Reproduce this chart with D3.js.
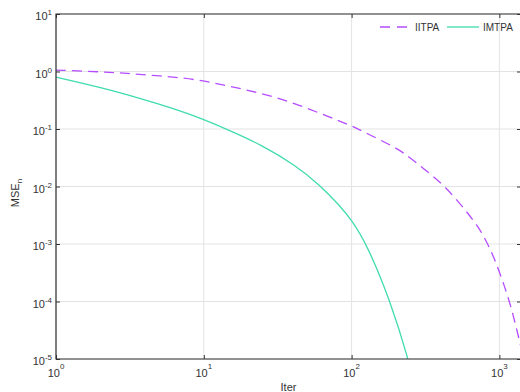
<!DOCTYPE html>
<html>
<head>
<meta charset="utf-8">
<script src="https://cdn.jsdelivr.net/npm/d3@7"></script>
<style>
  body { margin: 0; background: #fff; }
  text { font-family: "Liberation Sans", Arial, sans-serif; fill: #333; }
</style>
</head>
<body>
<div id="chart"></div>
<script>
'use strict'

// data
var iterIITPA = [1, 2, 3, 5, 8.7, 14.7, 24.7, 41.4, 69.5, 100, 114, 197, 224, 306, 429, 601, 740, 863, 960, 1180, 1378, 1450];
var mseIITPA  = [1.06, 0.99, 0.93, 0.84, 0.741, 0.560, 0.418, 0.280, 0.164, 0.114, 0.096, 0.048, 0.0387, 0.0207, 0.0102, 0.00365, 0.00182, 8.4e-4, 4.4e-4, 1.0e-4, 1.9e-5, 1.1e-5];
var iterIMTPA = [1, 2, 3, 5, 8.7, 14.7, 24.7, 41.4, 61.1, 83.4, 100, 126.5, 182, 242, 270];
var mseIMTPA  = [0.80, 0.53, 0.40, 0.27, 0.170, 0.096, 0.0527, 0.0237, 0.0106, 0.0046, 0.0026, 1.0e-3, 1.06e-4, 1.0e-5, 3e-6];
var xTicks = [1, 10, 100, 1000];
var yTicks = [1e-5, 1e-4, 1e-3, 1e-2, 1e-1, 1, 10];
var seriesNames = ["IITPA", "IMTPA"];
var seriesColors = ["#b64cff", "#40dcae"];

var width = 520, height = 392;
var mLeft = 56, mTop = 14, mRight = 521, mBottom = 359;

var svg = d3.select("#chart").append("svg").attr("width", width).attr("height", height);

var x = d3.scaleLog().domain([1, 1400]).range([mLeft, mRight]);
var y = d3.scaleLog().domain([1e-5, 10]).range([mBottom, mTop]);

// grid
var grid = svg.append("g");
grid.selectAll(".gx").data(xTicks).enter().append("line")
    .attr("x1", function (d) { return x(d); }).attr("x2", function (d) { return x(d); })
    .attr("y1", mTop).attr("y2", mBottom)
    .attr("stroke", "#e3e3e3").attr("stroke-width", 1);
grid.selectAll(".gy").data(yTicks).enter().append("line")
    .attr("x1", mLeft).attr("x2", mRight)
    .attr("y1", function (d) { return y(d); }).attr("y2", function (d) { return y(d); })
    .attr("stroke", "#e3e3e3").attr("stroke-width", 1);

// lines
svg.append("clipPath").attr("id", "clip").append("rect")
    .attr("x", mLeft).attr("y", mTop).attr("width", mRight - mLeft).attr("height", mBottom - mTop);

var line = d3.line()
    .x(function (d) { return x(d[0]); })
    .y(function (d) { return y(d[1]); })
    .curve(d3.curveBasis);

var plot = svg.append("g").attr("clip-path", "url(#clip)");
plot.append("path")
    .datum(d3.zip(iterIITPA, mseIITPA))
    .attr("d", line).attr("fill", "none")
    .attr("stroke", seriesColors[0]).attr("stroke-width", 1.3)
    .attr("stroke-dasharray", "10,6");
plot.append("path")
    .datum(d3.zip(iterIMTPA, mseIMTPA))
    .attr("d", line).attr("fill", "none")
    .attr("stroke", seriesColors[1]).attr("stroke-width", 1.3);

// axes (inward ticks, box)
svg.append("g").attr("transform", "translate(0," + mBottom + ")")
    .call(d3.axisTop(x).tickValues(xTicks).tickSize(4).tickFormat(""));
svg.append("g").attr("transform", "translate(0," + mTop + ")")
    .call(d3.axisBottom(x).tickValues(xTicks).tickSize(4).tickFormat(""));
svg.append("g").attr("transform", "translate(" + mLeft + ",0)")
    .call(d3.axisRight(y).tickValues(yTicks).tickSize(4).tickFormat(""));
svg.append("g").attr("transform", "translate(" + mRight + ",0)")
    .call(d3.axisLeft(y).tickValues(yTicks).tickSize(4).tickFormat(""));
svg.selectAll(".domain").remove();
svg.selectAll(".tick line").attr("stroke", "#333");

svg.append("path")
    .attr("d", "M" + mRight + "," + mTop + "H" + mLeft + "V" + mBottom + "H" + mRight)
    .attr("fill", "none").attr("stroke", "#333").attr("stroke-width", 1.2);

// tick labels
var xl = svg.selectAll(".xl").data(xTicks).enter().append("text")
    .attr("x", function (d) { return x(d); }).attr("y", mBottom + 18)
    .attr("text-anchor", "middle").style("font-size", "11px");
xl.append("tspan").text("10");
xl.append("tspan").attr("dy", -8).style("font-size", "8px")
    .text(function (d) { return Math.round(Math.log10(d)); });

var yl = svg.selectAll(".yl").data(yTicks).enter().append("text")
    .attr("x", mLeft - 4).attr("y", function (d) { return y(d) + 6; })
    .attr("text-anchor", "end").style("font-size", "11px");
yl.append("tspan").text("10");
yl.append("tspan").attr("dy", -5).style("font-size", "8px")
    .text(function (d) { return Math.round(Math.log10(d)); });

// axis titles
svg.append("text").attr("x", (mLeft + mRight) / 2).attr("y", 391)
    .attr("text-anchor", "middle").style("font-size", "11px").text("Iter");

var yt = svg.append("text")
    .attr("transform", "translate(19," + 193 + ") rotate(-90)")
    .attr("text-anchor", "middle").style("font-size", "11px");
yt.append("tspan").text("MSE");
yt.append("tspan").attr("dy", 3).style("font-size", "8px").text("n");

// legend
var legendX = [380, 447];
var legend = svg.selectAll(".lg").data(seriesNames).enter().append("g")
    .attr("transform", function (d, i) { return "translate(" + legendX[i] + ",27)"; });
legend.append("line")
    .attr("x1", 0).attr("x2", function (d, i) { return i === 0 ? 28 : 32; })
    .attr("y1", 0).attr("y2", 0)
    .attr("stroke", function (d, i) { return seriesColors[i]; })
    .attr("stroke-width", 1.3)
    .attr("stroke-dasharray", function (d, i) { return i === 0 ? "10,7" : null; });
legend.append("text")
    .attr("x", function (d, i) { return i === 0 ? 35 : 36; }).attr("y", 4)
    .style("font-size", "10px").text(function (d) { return d; });
</script>
</body>
</html>
